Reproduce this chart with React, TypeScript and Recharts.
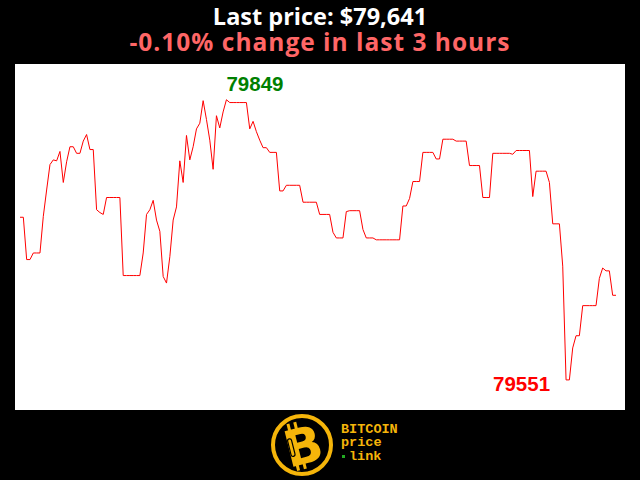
import React from 'react';
import { LineChart, Line, XAxis, YAxis } from 'recharts';

const prices: number[] = [
  79724, 79724, 79679, 79679, 79686, 79686, 79686, 79725, 79753, 79780,
  79785, 79784, 79794, 79761, 79783, 79799, 79799, 79792, 79792, 79805,
  79812, 79796, 79796, 79732, 79729, 79727, 79745, 79745, 79745, 79745,
  79745, 79662, 79662, 79662, 79662, 79662, 79662, 79686, 79727, 79732,
  79742, 79721, 79709, 79661, 79654, 79682, 79721, 79735, 79784, 79761,
  79811, 79785, 79799, 79818, 79824, 79848, 79828, 79806, 79775, 79832,
  79819, 79836, 79849, 79846, 79846, 79846, 79846, 79846, 79846, 79818,
  79826, 79815, 79806, 79798, 79798, 79793, 79793, 79793, 79752, 79752,
  79758, 79758, 79758, 79758, 79758, 79740, 79740, 79740, 79740, 79740,
  79727, 79727, 79727, 79727, 79708, 79702, 79702, 79702, 79730, 79731,
  79731, 79731, 79731, 79711, 79702, 79702, 79702, 79700, 79700, 79700,
  79700, 79700, 79700, 79700, 79700, 79736, 79736, 79744, 79762, 79762,
  79762, 79793, 79793, 79793, 79793, 79786, 79786, 79807, 79807, 79807,
  79807, 79805, 79805, 79805, 79805, 79779, 79779, 79779, 79779, 79745,
  79745, 79745, 79792, 79792, 79792, 79792, 79792, 79792, 79791, 79795,
  79795, 79795, 79795, 79795, 79746, 79773, 79773, 79773, 79773, 79761,
  79717, 79717, 79717, 79672, 79551, 79551, 79585, 79598, 79598, 79630,
  79630, 79630, 79630, 79630, 79659, 79670, 79667, 79667, 79641, 79641,
];

const titleText = 'Last price: $79,641';
const changeText = '-0.10% change in last 3 hours';
const yDomain: [number, number] = [79519, 79887];

const data = prices.map((price, i) => ({ i, price }));

const maxPrice = Math.max(...prices);
const minPrice = Math.min(...prices);
const maxIndex = prices.indexOf(maxPrice);
const minIndex = prices.indexOf(minPrice);

const GOLD = '#f5b50a';

function renderLabel(props: any) {
  const { x, y, index } = props;
  if (index === maxIndex) {
    return (
      <text key="maxl" x={x} y={y - 9} fill="#008000" fontSize={20.5} fontWeight="bold" fontFamily="Liberation Sans, Arial, sans-serif" textAnchor="start">
        {String(maxPrice)}
      </text>
    );
  }
  if (index === minIndex) {
    return (
      <text key="minl" x={x - 16} y={y + 11} fill="#ff0000" fontSize={20.5} fontWeight="bold" fontFamily="Liberation Sans, Arial, sans-serif" textAnchor="end">
        {String(minPrice)}
      </text>
    );
  }
  return <g key={'l' + index} />;
}

export default function App() {
  return (
    <div style={{ position: 'fixed', left: 0, top: 0, width: 640, height: 480, background: '#000', overflow: 'hidden' }}>
      <svg width={640} height={64} style={{ position: 'absolute', left: 0, top: 0 }}>
        <text x={320} y={25} textAnchor="middle" fill="#ffffff" fontSize={23.5} fontWeight="bold" fontFamily="Open Sans, sans-serif">
          {titleText}
        </text>
        <text x={320} y={50.5} textAnchor="middle" fill="#ff6666" fontSize={24.5} fontWeight="bold" fontFamily="Open Sans, sans-serif" letterSpacing={1}>
          {changeText}
        </text>
      </svg>
      <div style={{ position: 'absolute', left: 15, top: 64, width: 610, height: 346, background: '#fff' }}>
        <LineChart width={610} height={346} data={data} margin={{ top: 0, right: 9, bottom: 0, left: 5 }}>
          <XAxis type="number" dataKey="i" domain={[0, prices.length - 1]} hide />
          <YAxis domain={yDomain} hide />
          <Line dataKey="price" stroke="#ff0000" strokeWidth={1} dot={false} isAnimationActive={false} label={renderLabel} />
        </LineChart>
      </div>
      <svg width={640} height={70} style={{ position: 'absolute', left: 0, top: 410 }}>
        <circle cx={302} cy={35} r={29} fill="none" stroke={GOLD} strokeWidth={4} />
        <g transform="rotate(-14 302 35)">
          <rect x={292} y={11} width={3} height={8} fill={GOLD} />
          <rect x={299} y={11} width={3} height={8} fill={GOLD} />
          <rect x={291} y={52} width={3} height={7} fill={GOLD} />
          <rect x={298} y={52} width={3} height={7} fill={GOLD} />
          <text x={303} y={54} textAnchor="middle" fill={GOLD} fontSize={50} fontWeight="bold" fontFamily="DejaVu Sans, sans-serif">B</text>
          <rect x={289} y={26} width={4} height={18} rx={2} fill="none" stroke="#000" strokeWidth={1.2} />
        </g>
        <text x={341} y={23} fill={GOLD} fontSize={13.5} fontWeight="bold" fontFamily="Liberation Mono, monospace">BITCOIN</text>
        <text x={341} y={36} fill={GOLD} fontSize={13.5} fontWeight="bold" fontFamily="Liberation Mono, monospace">price</text>
        <rect x={342} y={45} width={3} height={3} fill="#22aa22" />
        <text x={349} y={49.5} fill={GOLD} fontSize={13.5} fontWeight="bold" fontFamily="Liberation Mono, monospace">link</text>
      </svg>
    </div>
  );
}
